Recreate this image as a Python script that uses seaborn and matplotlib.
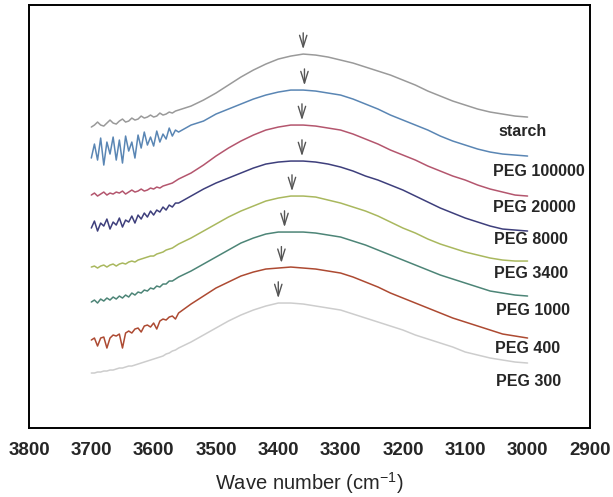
import numpy as np
import pandas as pd
import matplotlib
matplotlib.use("Agg")
import matplotlib.pyplot as plt
import seaborn as sns

# wavenumber grid (cm-1): fine in the noisy region, coarser elsewhere
wavenumber = list(range(3700, 3559, -5)) + list(range(3540, 2999, -20))

starch = [301, 303, 306, 303, 302, 305, 308, 305, 304, 307, 309, 306, 307, 310, 308,
          309, 312, 310, 311, 313, 311, 312, 315, 313, 314, 316, 315, 317, 318,
          322, 328, 335, 343, 351, 358, 364, 369, 372, 374, 373, 371, 368, 365,
          361, 357, 353, 348, 343, 337, 332, 327, 323, 319, 316, 314, 312, 311]
peg_100000 = [270, 284, 268, 290, 263, 286, 274, 291, 268, 288, 265, 292, 277, 286, 270,
              293, 280, 296, 283, 291, 282, 297, 286, 294, 289, 300, 292, 298, 296,
              303, 307, 314, 319, 324, 329, 333, 336, 338, 338, 337, 335, 333, 329,
              324, 319, 313, 308, 303, 298, 292, 287, 283, 279, 276, 274, 273, 272]
peg_20000 = [233, 235, 232, 234, 236, 233, 235, 234, 236, 235, 237, 234, 236, 238, 236,
             237, 239, 237, 238, 240, 239, 241, 240, 242, 243, 244, 245, 247, 249,
             255, 263, 272, 280, 287, 293, 298, 301, 303, 303, 302, 300, 298, 294,
             289, 284, 278, 273, 268, 262, 257, 252, 248, 243, 239, 236, 233, 232]
peg_8000 = [200, 207, 197, 205, 202, 209, 199, 206, 203, 210, 201, 208, 206, 212, 205,
            213, 209, 215, 211, 217, 213, 218, 216, 221, 218, 223, 221, 225, 225,
            232, 239, 245, 250, 255, 260, 264, 266, 267, 267, 266, 264, 261, 257,
            252, 248, 243, 238, 232, 226, 220, 215, 210, 206, 202, 199, 198, 197]
peg_3400 = [161, 162, 160, 162, 163, 161, 163, 164, 162, 164, 165, 164, 166, 167, 166,
            168, 169, 170, 171, 172, 172, 174, 175, 176, 178, 179, 180, 182, 184,
            190, 197, 204, 211, 217, 222, 227, 230, 232, 232, 231, 228, 225, 221,
            217, 212, 206, 200, 195, 189, 184, 180, 176, 173, 170, 168, 167, 167]
peg_1000 = [126, 128, 125, 129, 127, 130, 128, 131, 129, 132, 130, 133, 131, 135, 133,
            136, 135, 138, 137, 140, 139, 142, 141, 144, 144, 147, 147, 149, 151,
            157, 164, 171, 178, 185, 190, 194, 196, 196, 196, 195, 193, 191, 187,
            183, 178, 173, 168, 163, 158, 153, 149, 145, 141, 137, 135, 133, 132]
peg_400 = [88, 90, 82, 90, 91, 80, 90, 93, 92, 94, 80, 95, 97, 95, 99,
           100, 96, 102, 103, 101, 105, 99, 107, 109, 108, 111, 112, 109, 115,
           124, 132, 140, 146, 152, 156, 159, 160, 161, 160, 159, 157, 155, 151,
           146, 141, 135, 130, 125, 120, 115, 110, 106, 102, 98, 94, 92, 90]
peg_300 = [55, 55, 56, 56, 57, 57, 58, 58, 59, 60, 60, 61, 62, 62, 63,
           64, 65, 66, 67, 68, 69, 70, 71, 72, 74, 75, 77, 78, 80,
           86, 93, 100, 107, 113, 118, 122, 125, 125, 124, 122, 120, 118, 114,
           110, 106, 102, 98, 93, 89, 85, 81, 76, 73, 70, 68, 66, 65]

samples = ["starch", "PEG 100000", "PEG 20000", "PEG 8000",
           "PEG 3400", "PEG 1000", "PEG 400", "PEG 300"]
series = [starch, peg_100000, peg_20000, peg_8000, peg_3400, peg_1000, peg_400, peg_300]
# band maxima marked with arrows
peak_wn = [3360, 3358, 3362, 3362, 3378, 3390, 3395, 3400]

colors = ["#9a9a9a", "#5a86b4", "#b4566e", "#3e3f7c",
          "#a9b85e", "#4d8577", "#ad4a32", "#cdcdcd"]
label_x = [3046, 3055, 3055, 3054, 3054, 3051, 3052, 3051]
label_y = [297, 257, 221, 189, 155, 118, 80, 47]

rows = []
for name, vals in zip(samples, series):
    for w, v in zip(wavenumber, vals):
        rows.append({"wavenumber": w, "signal": v, "sample": name})
df = pd.DataFrame(rows)

sns.set_style("white")
plt.rcParams["font.family"] = ["Liberation Sans", "DejaVu Sans"]
plt.rcParams["mathtext.fontset"] = "custom"
plt.rcParams["mathtext.rm"] = "Liberation Sans"

fig = plt.figure(figsize=(6.13, 4.97), dpi=100)
ax = fig.add_axes([0.0473, 0.1388, 0.915, 0.851])

sns.lineplot(data=df, x="wavenumber", y="signal", hue="sample", hue_order=samples,
             palette=colors, linewidth=1.1, legend=False, ax=ax, sort=True)

for name, vals, pk, x, y in zip(samples, series, peak_wn, label_x, label_y):
    top = np.interp(pk, wavenumber[::-1], vals[::-1])
    ax.annotate("", xy=(pk, top + 2), xytext=(pk, top + 24),
                arrowprops=dict(arrowstyle="->,head_length=0.7,head_width=0.22",
                                color="#555555", lw=1.0, mutation_scale=12))
    ax.text(x, y, name, fontsize=11.5, fontweight="bold", ha="left", va="center")

ax.set_xlim(3800, 2900)
ax.set_ylim(0, 423)
ax.set_xticks(range(3800, 2899, -100))
ax.set_yticks([])
ax.tick_params(axis="x", direction="in", length=6, width=1.2, pad=10, labelsize=13.5)
for lbl in ax.get_xticklabels():
    lbl.set_fontweight("bold")
for sp in ax.spines.values():
    sp.set_color("black")
    sp.set_linewidth(1.4)
ax.set_xlabel("Wave number (cm$^{-1}$)", fontsize=14.5, labelpad=8)
ax.set_ylabel("")

fig.savefig("out.png", dpi=100, facecolor="white")
